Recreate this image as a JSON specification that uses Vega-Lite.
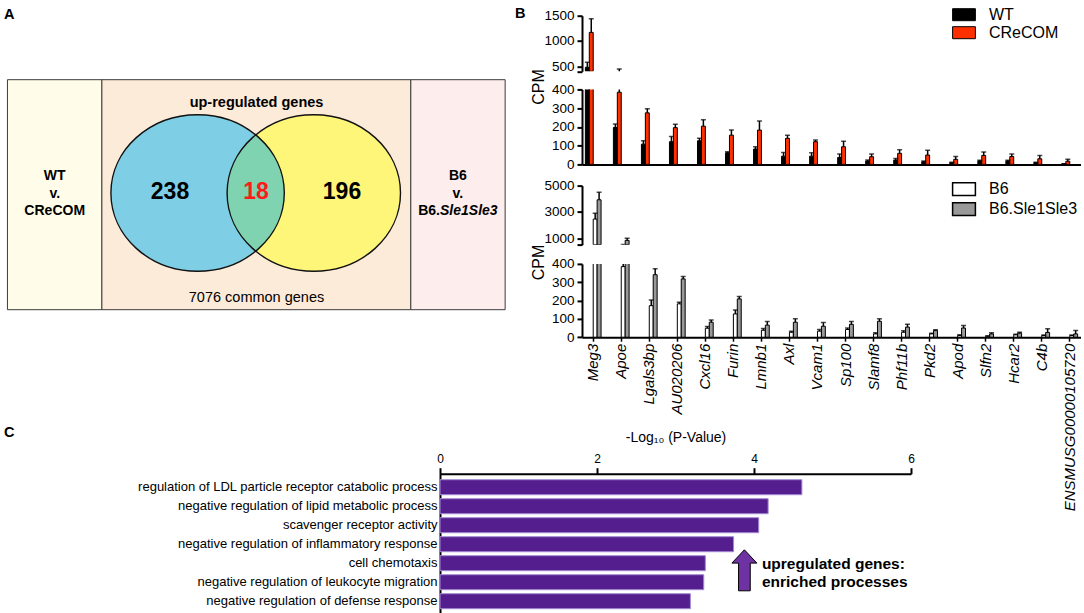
{
  "$schema": "https://vega.github.io/schema/vega-lite/v6.json",
  "padding": 0,
  "background": "white",
  "config": {
    "font": "Liberation Sans",
    "view": {"stroke": null},
    "axis": {"domainColor": "#000", "tickColor": "#000", "labelColor": "#000", "titleColor": "#000", "grid": false, "labelFlush": false, "labelOverlap": false},
    "point": {"opacity": 1}
  },
  "datasets": {
    "venn": [
      {"set": "WT v. CReCOM", "genes": 238},
      {"set": "shared", "genes": 18},
      {"set": "B6 v. B6.Sle1Sle3", "genes": 196}
    ],
    "cre": [
      {"gene": "Meg3", "group": "WT", "mean": 480, "upper": 580},
      {"gene": "Meg3", "group": "CReCOM", "mean": 1170, "upper": 1440},
      {"gene": "Apoe", "group": "WT", "mean": 197, "upper": 215},
      {"gene": "Apoe", "group": "CReCOM", "mean": 385, "upper": 445},
      {"gene": "Lgals3bp", "group": "WT", "mean": 108, "upper": 126},
      {"gene": "Lgals3bp", "group": "CReCOM", "mean": 275, "upper": 297},
      {"gene": "AU020206", "group": "WT", "mean": 121, "upper": 149},
      {"gene": "AU020206", "group": "CReCOM", "mean": 196, "upper": 214},
      {"gene": "Cxcl16", "group": "WT", "mean": 126, "upper": 139},
      {"gene": "Cxcl16", "group": "CReCOM", "mean": 204, "upper": 238},
      {"gene": "Furin", "group": "WT", "mean": 62, "upper": 67},
      {"gene": "Furin", "group": "CReCOM", "mean": 156, "upper": 183},
      {"gene": "Lmnb1", "group": "WT", "mean": 82, "upper": 94},
      {"gene": "Lmnb1", "group": "CReCOM", "mean": 183, "upper": 231},
      {"gene": "Axl", "group": "WT", "mean": 44, "upper": 64},
      {"gene": "Axl", "group": "CReCOM", "mean": 139, "upper": 156},
      {"gene": "Vcam1", "group": "WT", "mean": 44, "upper": 62},
      {"gene": "Vcam1", "group": "CReCOM", "mean": 121, "upper": 130},
      {"gene": "Sp100", "group": "WT", "mean": 37, "upper": 55},
      {"gene": "Sp100", "group": "CReCOM", "mean": 94, "upper": 124},
      {"gene": "Slamf8", "group": "WT", "mean": 18, "upper": 23},
      {"gene": "Slamf8", "group": "CReCOM", "mean": 41, "upper": 55},
      {"gene": "Phf11b", "group": "WT", "mean": 23, "upper": 32},
      {"gene": "Phf11b", "group": "CReCOM", "mean": 59, "upper": 78},
      {"gene": "Pkd2", "group": "WT", "mean": 14, "upper": 18},
      {"gene": "Pkd2", "group": "CReCOM", "mean": 50, "upper": 76},
      {"gene": "Apod", "group": "WT", "mean": 9, "upper": 12},
      {"gene": "Apod", "group": "CReCOM", "mean": 27, "upper": 42},
      {"gene": "Slfn2", "group": "WT", "mean": 18, "upper": 22},
      {"gene": "Slfn2", "group": "CReCOM", "mean": 48, "upper": 66},
      {"gene": "Hcar2", "group": "WT", "mean": 18, "upper": 22},
      {"gene": "Hcar2", "group": "CReCOM", "mean": 42, "upper": 55},
      {"gene": "C4b", "group": "WT", "mean": 9, "upper": 11},
      {"gene": "C4b", "group": "CReCOM", "mean": 30, "upper": 48},
      {"gene": "ENSMUSG00000105720", "group": "WT", "mean": 3, "upper": 4},
      {"gene": "ENSMUSG00000105720", "group": "CReCOM", "mean": 17, "upper": 28}
    ],
    "sle": [
      {"gene": "Meg3", "group": "B6", "mean": 2450, "upper": 2900},
      {"gene": "Meg3", "group": "B6.Sle1Sle3", "mean": 3920, "upper": 4500},
      {"gene": "Apoe", "group": "B6", "mean": 385, "upper": 520},
      {"gene": "Apoe", "group": "B6.Sle1Sle3", "mean": 830, "upper": 1000},
      {"gene": "Lgals3bp", "group": "B6", "mean": 172, "upper": 203},
      {"gene": "Lgals3bp", "group": "B6.Sle1Sle3", "mean": 341, "upper": 373},
      {"gene": "AU020206", "group": "B6", "mean": 182, "upper": 191},
      {"gene": "AU020206", "group": "B6.Sle1Sle3", "mean": 318, "upper": 331},
      {"gene": "Cxcl16", "group": "B6", "mean": 49, "upper": 58},
      {"gene": "Cxcl16", "group": "B6.Sle1Sle3", "mean": 82, "upper": 94},
      {"gene": "Furin", "group": "B6", "mean": 127, "upper": 149},
      {"gene": "Furin", "group": "B6.Sle1Sle3", "mean": 209, "upper": 222},
      {"gene": "Lmnb1", "group": "B6", "mean": 38, "upper": 48},
      {"gene": "Lmnb1", "group": "B6.Sle1Sle3", "mean": 66, "upper": 86},
      {"gene": "Axl", "group": "B6", "mean": 27, "upper": 33},
      {"gene": "Axl", "group": "B6.Sle1Sle3", "mean": 82, "upper": 100},
      {"gene": "Vcam1", "group": "B6", "mean": 33, "upper": 42},
      {"gene": "Vcam1", "group": "B6.Sle1Sle3", "mean": 60, "upper": 80},
      {"gene": "Sp100", "group": "B6", "mean": 42, "upper": 50},
      {"gene": "Sp100", "group": "B6.Sle1Sle3", "mean": 70, "upper": 86},
      {"gene": "Slamf8", "group": "B6", "mean": 18, "upper": 24},
      {"gene": "Slamf8", "group": "B6.Sle1Sle3", "mean": 87, "upper": 100},
      {"gene": "Phf11b", "group": "B6", "mean": 27, "upper": 35},
      {"gene": "Phf11b", "group": "B6.Sle1Sle3", "mean": 55, "upper": 70},
      {"gene": "Pkd2", "group": "B6", "mean": 18, "upper": 22},
      {"gene": "Pkd2", "group": "B6.Sle1Sle3", "mean": 36, "upper": 40},
      {"gene": "Apod", "group": "B6", "mean": 9, "upper": 13},
      {"gene": "Apod", "group": "B6.Sle1Sle3", "mean": 50, "upper": 64},
      {"gene": "Slfn2", "group": "B6", "mean": 5, "upper": 8},
      {"gene": "Slfn2", "group": "B6.Sle1Sle3", "mean": 18, "upper": 24},
      {"gene": "Hcar2", "group": "B6", "mean": 13, "upper": 16},
      {"gene": "Hcar2", "group": "B6.Sle1Sle3", "mean": 22, "upper": 27},
      {"gene": "C4b", "group": "B6", "mean": 9, "upper": 12},
      {"gene": "C4b", "group": "B6.Sle1Sle3", "mean": 26, "upper": 46},
      {"gene": "ENSMUSG00000105720", "group": "B6", "mean": 9, "upper": 12},
      {"gene": "ENSMUSG00000105720", "group": "B6.Sle1Sle3", "mean": 18, "upper": 36}
    ],
    "go": [
      {"term": "regulation of LDL particle receptor catabolic process", "neglogp": 4.61},
      {"term": "negative regulation of lipid metabolic process", "neglogp": 4.18},
      {"term": "scavenger receptor activity", "neglogp": 4.06},
      {"term": "negative regulation of inflammatory response", "neglogp": 3.74},
      {"term": "cell chemotaxis", "neglogp": 3.38},
      {"term": "negative regulation of leukocyte migration", "neglogp": 3.36},
      {"term": "negative regulation of defense response", "neglogp": 3.19}
    ]
  },
  "bounds": "flush",
  "spacing": 470.7,
  "resolve": {"scale": {"color": "independent", "shape": "independent", "size": "independent"}, "legend": {"color": "independent"}},
  "vconcat": [
    {
      "bounds": "flush",
      "spacing": 16,
      "resolve": {"scale": {"color": "independent", "shape": "independent", "size": "independent"}, "legend": {"color": "independent"}},
      "hconcat": [
        {
          "width": 566,
          "height": 440,
          "resolve": {"scale": {"x": "independent", "y": "independent", "color": "independent"}},
          "layer": [
            {
              "data": {"values": [{"comparison": "WT v. CReCOM"}, {"comparison": "B6 v. B6.Sle1Sle3"}]},
              "mark": {"type": "rect", "width": 94.5, "height": 230, "stroke": "#3c3c3c", "strokeWidth": 1},
              "encoding": {
                "x": {"field": "comparison", "type": "nominal", "scale": {"type": "point", "domain": ["WT v. CReCOM", "shared", "B6 v. B6.Sle1Sle3"], "range": [54.7, 457.9], "padding": 0}, "axis": null},
                "y": {"field": "comparison", "type": "nominal", "scale": {"type": "point", "domain": ["WT v. CReCOM", "shared", "B6 v. B6.Sle1Sle3"], "range": [191.7, 191.7], "padding": 0}, "axis": null},
                "color": {"field": "comparison", "type": "nominal", "scale": {"domain": ["WT v. CReCOM", "B6 v. B6.Sle1Sle3"], "range": ["#fffde9", "#fdeded"]}, "legend": null}
              }
            },
            {
              "data": {"values": [{"comparison": "shared"}]},
              "mark": {"type": "rect", "width": 308.8, "height": 230, "fill": "#fdebd9", "stroke": "#3c3c3c", "strokeWidth": 1},
              "encoding": {
                "x": {"field": "comparison", "type": "nominal", "scale": {"type": "point", "domain": ["WT v. CReCOM", "shared", "B6 v. B6.Sle1Sle3"], "range": [54.7, 457.9], "padding": 0}, "axis": null},
                "y": {"field": "comparison", "type": "nominal", "scale": {"type": "point", "domain": ["WT v. CReCOM", "shared", "B6 v. B6.Sle1Sle3"], "range": [191.7, 191.7], "padding": 0}, "axis": null}
              }
            },
            {
              "data": {"name": "venn"},
              "transform": [{"filter": "datum.set != 'shared'"}],
              "mark": {"type": "point", "shape": "M-1,0A1,0.903,0,0,1,1,0A1,0.903,0,0,1,-1,0Z", "size": 30067, "filled": true, "opacity": 1, "strokeWidth": 0},
              "encoding": {
                "x": {"field": "set", "type": "nominal", "scale": {"type": "point", "domain": ["WT v. CReCOM", "shared", "B6 v. B6.Sle1Sle3"], "range": [197.6, 313.8], "padding": 0}, "axis": null},
                "y": {"field": "set", "type": "nominal", "scale": {"type": "point", "domain": ["WT v. CReCOM", "shared", "B6 v. B6.Sle1Sle3"], "range": [190, 190], "padding": 0}, "axis": null},
                "color": {"field": "set", "type": "nominal", "scale": {"domain": ["WT v. CReCOM", "B6 v. B6.Sle1Sle3"], "range": ["#7ecee6", "#fef679"]}, "legend": null}
              }
            },
            {
              "data": {"name": "venn"},
              "transform": [{"filter": "datum.set == 'shared'"}],
              "mark": {"type": "point", "shape": "M0,-0.67A1,0.903,0,0,0,0,0.67A1,0.903,0,0,0,0,-0.67Z", "size": 30067, "filled": true, "opacity": 1, "fill": "#80d3b1", "strokeWidth": 0},
              "encoding": {
                "x": {"field": "set", "type": "nominal", "scale": {"type": "point", "domain": ["WT v. CReCOM", "shared", "B6 v. B6.Sle1Sle3"], "range": [197.6, 313.8], "padding": 0}, "axis": null},
                "y": {"field": "set", "type": "nominal", "scale": {"type": "point", "domain": ["WT v. CReCOM", "shared", "B6 v. B6.Sle1Sle3"], "range": [190, 190], "padding": 0}, "axis": null}
              }
            },
            {
              "data": {"name": "venn"},
              "transform": [{"filter": "datum.set != 'shared'"}],
              "mark": {"type": "point", "shape": "M-1,0A1,0.903,0,0,1,1,0A1,0.903,0,0,1,-1,0Z", "size": 30067, "filled": false, "opacity": 1, "stroke": "#111111", "strokeWidth": 1.4},
              "encoding": {
                "x": {"field": "set", "type": "nominal", "scale": {"type": "point", "domain": ["WT v. CReCOM", "shared", "B6 v. B6.Sle1Sle3"], "range": [197.6, 313.8], "padding": 0}, "axis": null},
                "y": {"field": "set", "type": "nominal", "scale": {"type": "point", "domain": ["WT v. CReCOM", "shared", "B6 v. B6.Sle1Sle3"], "range": [190, 190], "padding": 0}, "axis": null}
              }
            },
            {
              "data": {"name": "venn"},
              "mark": {"type": "text", "fontSize": 23, "fontWeight": "bold", "baseline": "middle"},
              "encoding": {
                "x": {"field": "set", "type": "nominal", "scale": {"type": "point", "domain": ["WT v. CReCOM", "shared", "B6 v. B6.Sle1Sle3"], "range": [170, 342], "padding": 0}, "axis": null},
                "y": {"field": "set", "type": "nominal", "scale": {"type": "point", "domain": ["WT v. CReCOM", "shared", "B6 v. B6.Sle1Sle3"], "range": [189, 189], "padding": 0}, "axis": null},
                "text": {"field": "genes", "type": "quantitative"},
                "color": {"field": "set", "type": "nominal", "scale": {"domain": ["WT v. CReCOM", "shared", "B6 v. B6.Sle1Sle3"], "range": ["#000000", "#ff1a1a", "#000000"]}, "legend": null}
              }
            },
            {
              "data": {"values": [{"caption": "up-regulated genes"}]},
              "mark": {"type": "text", "fontSize": 14.5, "fontWeight": "bold", "baseline": "middle"},
              "encoding": {
                "x": {"field": "caption", "type": "nominal", "scale": {"type": "point", "domain": ["up-regulated genes"], "range": [256.5, 256.5]}, "axis": null},
                "y": {"field": "caption", "type": "nominal", "scale": {"type": "point", "domain": ["up-regulated genes"], "range": [100, 100]}, "axis": null},
                "text": {"field": "caption"}
              }
            },
            {
              "data": {"values": [{"caption": "7076 common genes"}]},
              "mark": {"type": "text", "fontSize": 14.5, "baseline": "middle"},
              "encoding": {
                "x": {"field": "caption", "type": "nominal", "scale": {"type": "point", "domain": ["7076 common genes"], "range": [256.5, 256.5]}, "axis": null},
                "y": {"field": "caption", "type": "nominal", "scale": {"type": "point", "domain": ["7076 common genes"], "range": [295, 295]}, "axis": null},
                "text": {"field": "caption"}
              }
            },
            {
              "data": {"values": [
                {"comparison": "WT v. CReCOM", "line": "1", "text": "WT"},
                {"comparison": "WT v. CReCOM", "line": "2", "text": "v."},
                {"comparison": "WT v. CReCOM", "line": "3", "text": "CReCOM"},
                {"comparison": "B6 v. B6.Sle1Sle3", "line": "1", "text": "B6"},
                {"comparison": "B6 v. B6.Sle1Sle3", "line": "2", "text": "v."}
              ]},
              "mark": {"type": "text", "fontSize": 14, "fontWeight": "bold", "baseline": "middle"},
              "encoding": {
                "x": {"field": "comparison", "type": "nominal", "scale": {"type": "point", "domain": ["WT v. CReCOM", "shared", "B6 v. B6.Sle1Sle3"], "range": [54.7, 457.9], "padding": 0}, "axis": null},
                "y": {"field": "line", "type": "ordinal", "scale": {"type": "point", "domain": ["1", "2", "3"], "range": [173, 208], "padding": 0}, "axis": null},
                "text": {"field": "text"}
              }
            },
            {
              "data": {"values": [{"text": "B6."}]},
              "mark": {"type": "text", "fontSize": 14, "fontWeight": "bold", "align": "right", "baseline": "middle"},
              "encoding": {
                "x": {"field": "text", "type": "nominal", "scale": {"type": "point", "domain": ["B6."], "range": [440, 440]}, "axis": null},
                "y": {"field": "text", "type": "nominal", "scale": {"type": "point", "domain": ["B6."], "range": [208, 208]}, "axis": null},
                "text": {"field": "text"}
              }
            },
            {
              "data": {"values": [{"text": "Sle1Sle3"}]},
              "mark": {"type": "text", "fontSize": 14, "fontWeight": "bold", "fontStyle": "italic", "align": "left", "baseline": "middle"},
              "encoding": {
                "x": {"field": "text", "type": "nominal", "scale": {"type": "point", "domain": ["Sle1Sle3"], "range": [440, 440]}, "axis": null},
                "y": {"field": "text", "type": "nominal", "scale": {"type": "point", "domain": ["Sle1Sle3"], "range": [208, 208]}, "axis": null},
                "text": {"field": "text"}
              }
            },
            {
              "data": {"values": [{"panel": "A"}, {"panel": "C"}]},
              "mark": {"type": "text", "fontSize": 14.5, "fontWeight": "bold", "align": "left", "baseline": "middle"},
              "encoding": {
                "x": {"field": "panel", "type": "nominal", "scale": {"type": "point", "domain": ["A", "C"], "range": [4, 4]}, "axis": null},
                "y": {"field": "panel", "type": "nominal", "scale": {"type": "point", "domain": ["A", "C"], "range": [11.5, 430], "padding": 0}, "axis": null},
                "text": {"field": "panel"}
              }
            },
            {
              "data": {"values": [{"panel": "B"}]},
              "mark": {"type": "text", "fontSize": 14.5, "fontWeight": "bold", "align": "left", "baseline": "middle"},
              "encoding": {
                "x": {"field": "panel", "type": "nominal", "scale": {"type": "point", "domain": ["B"], "range": [515, 515]}, "axis": null},
                "y": {"field": "panel", "type": "nominal", "scale": {"type": "point", "domain": ["B"], "range": [11, 11]}, "axis": null},
                "text": {"field": "panel"}
              }
            },
            {
              "data": {"values": [{"note": "upregulated genes: enriched processes"}]},
              "mark": {"type": "point", "shape": "M0,-1L0.61,-0.35L0.285,-0.35L0.285,1L-0.285,1L-0.285,-0.35L-0.61,-0.35Z", "size": 1681, "filled": true, "fill": "#6f32a3", "stroke": "#000", "strokeWidth": 1, "opacity": 1},
              "encoding": {
                "x": {"field": "note", "type": "nominal", "scale": {"type": "point", "domain": ["upregulated genes: enriched processes"], "range": [744.4, 744.4]}, "axis": null},
                "y": {"field": "note", "type": "nominal", "scale": {"type": "point", "domain": ["upregulated genes: enriched processes"], "range": [567.3, 567.3]}, "axis": null}
              }
            },
            {
              "data": {"values": [{"line": "1", "note": "upregulated genes:"}, {"line": "2", "note": "enriched processes"}]},
              "mark": {"type": "text", "align": "left", "baseline": "middle", "fontSize": 15.5, "fontWeight": "bold"},
              "encoding": {
                "x": {"field": "line", "type": "ordinal", "scale": {"type": "point", "domain": ["1", "2"], "range": [761.9, 761.9]}, "axis": null},
                "y": {"field": "line", "type": "ordinal", "scale": {"type": "point", "domain": ["1", "2"], "range": [560.7, 579.2], "padding": 0}, "axis": null},
                "text": {"field": "note"}
              }
            }
          ]
        },
        {
          "bounds": "flush",
          "spacing": 11.7,
          "resolve": {"scale": {"color": "independent"}, "legend": {"color": "independent"}},
          "vconcat": [
            {
              "width": 499,
              "height": 1,
              "data": {"values": [{"n": 0}]},
              "mark": {"type": "point", "opacity": 0},
              "encoding": {}
            },
            {
              "bounds": "flush",
              "spacing": 169.9,
              "resolve": {"scale": {"color": "independent"}, "legend": {"color": "independent"}},
              "vconcat": [
                {
                  "bounds": "flush",
                  "spacing": 17.7,
                  "resolve": {"scale": {"color": "independent"}, "legend": {"color": "independent"}},
                  "vconcat": [
                    {
                      "width": 499,
                      "height": 55.6,
                      "data": {"name": "cre"},
                      "resolve": {"axis": {"y": "independent"}},
                      "encoding": {
                        "x": {"field": "gene", "type": "nominal", "scale": {"domain": ["Meg3", "Apoe", "Lgals3bp", "AU020206", "Cxcl16", "Furin", "Lmnb1", "Axl", "Vcam1", "Sp100", "Slamf8", "Phf11b", "Pkd2", "Apod", "Slfn2", "Hcar2", "C4b", "ENSMUSG00000105720"], "paddingInner": 0.44, "paddingOuter": 0.12}, "axis": null},
                        "xOffset": {"field": "group", "type": "nominal", "scale": {"domain": ["WT", "CReCOM"]}}
                      },
                      "layer": [
                        {
                          "transform": [{"filter": "datum.mean > 400"}],
                          "mark": {"type": "bar", "clip": true, "stroke": "#000", "strokeWidth": 1},
                          "encoding": {
                            "y": {"field": "mean", "type": "quantitative", "stack": null, "scale": {"domain": [400, 1500], "nice": false, "zero": false}, "axis": {"values": [400, 500, 1000, 1500], "format": "d", "labelExpr": "datum.value == 400 ? '' : datum.label", "labelOverlap": false, "labelFlush": false, "title": null, "domainWidth": 2, "tickWidth": 2, "tickSize": 5, "labelFontSize": 13.5, "labelPadding": 3}},
                            "color": {"field": "group", "type": "nominal", "scale": {"domain": ["WT", "CReCOM"], "range": ["#000000", "#ff3000"]}, "legend": {"orient": "none", "legendX": 374, "legendY": -9, "title": null, "symbolType": "M-1.9,-1H1.9V1H-1.9Z", "symbolSize": 144, "symbolStrokeColor": "#000", "symbolStrokeWidth": 1, "symbolOpacity": 1, "labelFontSize": 16, "labelOffset": 17, "rowPadding": 2, "padding": 0}}
                          }
                        },
                        {
                          "transform": [{"filter": "datum.upper > 400"}],
                          "mark": {"type": "rule", "clip": true, "color": "#000", "strokeWidth": 1.5},
                          "encoding": {"y": {"field": "mean", "type": "quantitative", "axis": null}, "y2": {"field": "upper"}}
                        },
                        {
                          "transform": [{"filter": "datum.upper > 400"}],
                          "mark": {"type": "tick", "clip": true, "color": "#000", "thickness": 1.5, "size": 5},
                          "encoding": {"y": {"field": "upper", "type": "quantitative", "axis": null}}
                        }
                      ]
                    },
                    {
                      "width": 499,
                      "height": 75,
                      "data": {"name": "cre"},
                      "resolve": {"axis": {"y": "independent"}},
                      "encoding": {
                        "x": {"field": "gene", "type": "nominal", "scale": {"domain": ["Meg3", "Apoe", "Lgals3bp", "AU020206", "Cxcl16", "Furin", "Lmnb1", "Axl", "Vcam1", "Sp100", "Slamf8", "Phf11b", "Pkd2", "Apod", "Slfn2", "Hcar2", "C4b", "ENSMUSG00000105720"], "paddingInner": 0.44, "paddingOuter": 0.12}, "axis": {"orient": "bottom", "labels": false, "ticks": false, "domainWidth": 2, "title": null}},
                        "xOffset": {"field": "group", "type": "nominal", "scale": {"domain": ["WT", "CReCOM"]}}
                      },
                      "layer": [
                        {
                          "mark": {"type": "bar", "clip": true, "stroke": "#000", "strokeWidth": 1},
                          "encoding": {
                            "y": {"field": "mean", "type": "quantitative", "stack": null, "scale": {"domain": [0, 400], "nice": false}, "axis": {"values": [0, 100, 200, 300, 400], "format": "d", "labelOverlap": false, "labelFlush": false, "title": "CPM", "titleFontSize": 16, "titleFontWeight": "normal", "titleX": -44, "titleY": -3, "titleAlign": "center", "titleBaseline": "middle", "titleAngle": 270, "domainWidth": 2, "tickWidth": 2, "tickSize": 5, "labelFontSize": 13.5, "labelPadding": 3}},
                            "color": {"field": "group", "type": "nominal", "scale": {"domain": ["WT", "CReCOM"], "range": ["#000000", "#ff3000"]}, "legend": null}
                          }
                        },
                        {
                          "mark": {"type": "rule", "clip": true, "color": "#000", "strokeWidth": 1.5},
                          "encoding": {"y": {"field": "mean", "type": "quantitative", "axis": null}, "y2": {"field": "upper"}}
                        },
                        {
                          "mark": {"type": "tick", "clip": true, "color": "#000", "thickness": 1.5, "size": 5},
                          "encoding": {"y": {"field": "upper", "type": "quantitative", "axis": null}}
                        }
                      ]
                    }
                  ]
                },
                {
                  "bounds": "flush",
                  "spacing": 18.3,
                  "resolve": {"scale": {"color": "independent"}, "legend": {"color": "independent"}},
                  "vconcat": [
                    {
                      "width": 499,
                      "height": 59.1,
                      "data": {"name": "sle"},
                      "resolve": {"axis": {"y": "independent"}},
                      "encoding": {
                        "x": {"field": "gene", "type": "nominal", "scale": {"domain": ["Meg3", "Apoe", "Lgals3bp", "AU020206", "Cxcl16", "Furin", "Lmnb1", "Axl", "Vcam1", "Sp100", "Slamf8", "Phf11b", "Pkd2", "Apod", "Slfn2", "Hcar2", "C4b", "ENSMUSG00000105720"], "paddingInner": 0.44, "paddingOuter": 0.12}, "axis": null},
                        "xOffset": {"field": "group", "type": "nominal", "scale": {"domain": ["B6", "B6.Sle1Sle3"]}}
                      },
                      "layer": [
                        {
                          "transform": [{"filter": "datum.mean > 500"}],
                          "mark": {"type": "bar", "clip": true, "stroke": "#000", "strokeWidth": 1},
                          "encoding": {
                            "y": {"field": "mean", "type": "quantitative", "stack": null, "scale": {"domain": [500, 5000], "nice": false, "zero": false}, "axis": {"values": [500, 1000, 3000, 5000], "format": "d", "labelExpr": "datum.value == 500 ? '' : datum.label", "labelOverlap": false, "labelFlush": false, "title": null, "domainWidth": 2, "tickWidth": 2, "tickSize": 5, "labelFontSize": 13.5, "labelPadding": 3}},
                            "color": {"field": "group", "type": "nominal", "scale": {"domain": ["B6", "B6.Sle1Sle3"], "range": ["#ffffff", "#999999"]}, "legend": {"orient": "none", "legendX": 374, "legendY": -4.5, "title": null, "symbolType": "M-1.9,-1.05H1.9V1.05H-1.9Z", "symbolSize": 144, "symbolStrokeColor": "#000", "symbolStrokeWidth": 1.5, "symbolOpacity": 1, "labelFontSize": 16, "labelOffset": 17, "rowPadding": 0, "padding": 0}}
                          }
                        },
                        {
                          "transform": [{"filter": "datum.upper > 500"}],
                          "mark": {"type": "rule", "clip": true, "color": "#000", "strokeWidth": 1.5},
                          "encoding": {"y": {"field": "mean", "type": "quantitative", "axis": null}, "y2": {"field": "upper"}}
                        },
                        {
                          "transform": [{"filter": "datum.upper > 500"}],
                          "mark": {"type": "tick", "clip": true, "color": "#000", "thickness": 1.5, "size": 5},
                          "encoding": {"y": {"field": "upper", "type": "quantitative", "axis": null}}
                        }
                      ]
                    },
                    {
                      "width": 499,
                      "height": 73.3,
                      "data": {"name": "sle"},
                      "resolve": {"axis": {"y": "independent"}},
                      "encoding": {
                        "x": {"field": "gene", "type": "nominal", "scale": {"domain": ["Meg3", "Apoe", "Lgals3bp", "AU020206", "Cxcl16", "Furin", "Lmnb1", "Axl", "Vcam1", "Sp100", "Slamf8", "Phf11b", "Pkd2", "Apod", "Slfn2", "Hcar2", "C4b", "ENSMUSG00000105720"], "paddingInner": 0.44, "paddingOuter": 0.12}, "axis": {"orient": "bottom", "labelAngle": 270, "labelFontStyle": "italic", "labelFontSize": 15, "ticks": true, "tickSize": 4, "tickWidth": 1.5, "labelPadding": 2, "domainWidth": 2, "title": null, "labelLimit": 300, "labelOverlap": false}},
                        "xOffset": {"field": "group", "type": "nominal", "scale": {"domain": ["B6", "B6.Sle1Sle3"]}}
                      },
                      "layer": [
                        {
                          "mark": {"type": "bar", "clip": true, "stroke": "#000", "strokeWidth": 1},
                          "encoding": {
                            "y": {"field": "mean", "type": "quantitative", "stack": null, "scale": {"domain": [0, 400], "nice": false}, "axis": {"values": [0, 100, 200, 300, 400], "format": "d", "labelOverlap": false, "labelFlush": false, "title": "CPM", "titleFontSize": 16, "titleFontWeight": "normal", "titleX": -44, "titleY": -2, "titleAlign": "center", "titleBaseline": "middle", "titleAngle": 270, "domainWidth": 2, "tickWidth": 2, "tickSize": 5, "labelFontSize": 13.5, "labelPadding": 3}},
                            "color": {"field": "group", "type": "nominal", "scale": {"domain": ["B6", "B6.Sle1Sle3"], "range": ["#ffffff", "#999999"]}, "legend": null}
                          }
                        },
                        {
                          "mark": {"type": "rule", "clip": true, "color": "#000", "strokeWidth": 1.5},
                          "encoding": {"y": {"field": "mean", "type": "quantitative", "axis": null}, "y2": {"field": "upper"}}
                        },
                        {
                          "mark": {"type": "tick", "clip": true, "color": "#000", "thickness": 1.5, "size": 5},
                          "encoding": {"y": {"field": "upper", "type": "quantitative", "axis": null}}
                        }
                      ]
                    }
                  ]
                }
              ]
            }
          ]
        }
      ]
    },
    {
      "width": 911,
      "height": 141,
      "data": {"name": "go"},
      "mark": {"type": "bar", "fill": "#551e8e", "stroke": "#a38bd2", "strokeWidth": 1},
      "encoding": {
        "y": {"field": "term", "type": "nominal", "sort": null, "scale": {"domain": ["regulation of LDL particle receptor catabolic process", "negative regulation of lipid metabolic process", "scavenger receptor activity", "negative regulation of inflammatory response", "cell chemotaxis", "negative regulation of leukocyte migration", "negative regulation of defense response"], "paddingInner": 0.21, "paddingOuter": 0.316}, "axis": {"title": null, "ticks": false, "domainWidth": 2, "labelFontSize": 13, "labelPadding": 3, "labelLimit": 400, "offset": -440}},
        "x": {"field": "neglogp", "type": "quantitative", "scale": {"domain": [0, 6], "nice": false, "range": [440, 911]}, "axis": {"orient": "top", "values": [0, 2, 4, 6], "format": "d", "labelFlush": false, "title": "-Log₁₀ (P-Value)", "titleFontSize": 14, "titleFontWeight": "normal", "titlePadding": 8, "domainWidth": 2, "tickWidth": 2, "tickSize": 6, "labelFontSize": 12, "labelPadding": 2}}
      }
    }
  ]
}
